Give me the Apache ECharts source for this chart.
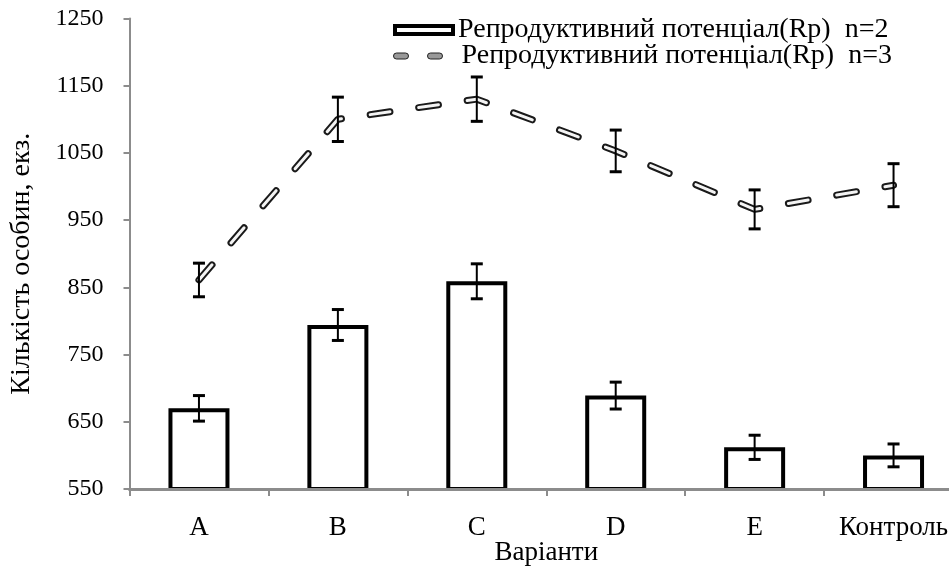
<!DOCTYPE html>
<html><head><meta charset="utf-8">
<script src="https://cdn.jsdelivr.net/npm/echarts@6/dist/echarts.min.js"></script>
<style>html,body{margin:0;padding:0;background:#fff}#c{width:949px;height:569px}</style>
</head><body><div id="c"></div>
<script>
const categories = ['A', 'B', 'C', 'D', 'E', 'Контроль'];
const barValues = [670, 794, 859, 689, 612, 600];
const barErrors = [19, 23, 26, 20, 18, 17];
const lineValues = [861, 1100, 1130, 1053, 966, 1002];
const lineErrors = [25, 33, 33, 31, 29, 32];
const yMin = 550, yMax = 1250, yStep = 100;
const seriesNames = ['Репродуктивний потенціал(Rp)  n=2', 'Репродуктивний потенціал(Rp)  n=3'];
const xTitle = 'Варіанти';
const yTitle = 'Кількість особин, екз.';

const FONT = 'Liberation Serif';
const errData = (vals, errs) => vals.map((v, i) => [i, v - errs[i], v + errs[i]]);

function errRender(params, api) {
  const x = api.value(0);
  const lo = api.coord([x, api.value(1)]);
  const hi = api.coord([x, api.value(2)]);
  const w = 6;
  return {
    type: 'group',
    children: [
      { type: 'line', shape: { x1: lo[0], y1: lo[1], x2: hi[0], y2: hi[1] }, style: { stroke: '#000', lineWidth: 2 } },
      { type: 'line', shape: { x1: hi[0] - w, y1: hi[1], x2: hi[0] + w, y2: hi[1] }, style: { stroke: '#000', lineWidth: 3 } },
      { type: 'line', shape: { x1: lo[0] - w, y1: lo[1], x2: lo[0] + w, y2: lo[1] }, style: { stroke: '#000', lineWidth: 3 } }
    ]
  };
}

const chart = echarts.init(document.getElementById('c'), null, { renderer: 'canvas' });
chart.setOption({
  animation: false,
  backgroundColor: '#fff',
  textStyle: { fontFamily: FONT, color: '#000' },
  grid: { left: 129.5, right: -14, top: 18.5, bottom: 80, outerBoundsMode: 'none', containLabel: false },
  legend: [
    {
      data: [{ name: seriesNames[0], icon: 'rect', itemStyle: { color: '#fff', borderColor: '#000', borderWidth: 4 } }],
      left: 393, top: 16, padding: 0, itemWidth: 58, itemHeight: 8, selectedMode: false,
      textStyle: { fontFamily: FONT, fontSize: 28, color: '#000', lineHeight: 27 }
    },
    {
      data: [{ name: seriesNames[1], icon: 'path://M3,0H12A3,3 0 0 1 12,6H3A3,3 0 0 1 3,0Z M37,0H46A3,3 0 0 1 46,6H37A3,3 0 0 1 37,0Z', itemStyle: { color: '#999', borderColor: '#222', borderWidth: 1 } }],
      left: 393, top: 42, padding: 0, itemWidth: 49, itemHeight: 6, selectedMode: false,
      textStyle: { fontFamily: FONT, fontSize: 28, color: '#000', lineHeight: 27, padding: [0, 0, 0, 14] }
    }
  ],
  xAxis: {
    type: 'category',
    data: categories,
    boundaryGap: true,
    z: 10,
    name: xTitle,
    nameLocation: 'middle',
    nameGap: 50,
    nameMoveOverlap: false,
    nameTextStyle: { fontFamily: FONT, fontSize: 27, color: '#000' },
    axisLine: { lineStyle: { color: '#8c8c8c', width: 3 } },
    axisTick: { show: true, length: 7, lineStyle: { color: '#8c8c8c', width: 2 } },
    axisLabel: { fontFamily: FONT, fontSize: 27, color: '#000', margin: 25, interval: 0 },
    splitLine: { show: false }
  },
  yAxis: {
    type: 'value',
    min: yMin, max: yMax, interval: yStep,
    name: yTitle,
    nameLocation: 'middle',
    nameGap: 94,
    nameMoveOverlap: false,
    nameTextStyle: { fontFamily: FONT, fontSize: 28, color: '#000', padding: [0, 20, 0, 0] },
    axisLine: { show: true, lineStyle: { color: '#8c8c8c', width: 2 } },
    axisTick: { show: true, length: 6, lineStyle: { color: '#8c8c8c', width: 2 } },
    axisLabel: { fontFamily: FONT, fontSize: 24, color: '#000', margin: 26, formatter: v => String(v) },
    splitLine: { show: false }
  },
  series: [
    {
      name: seriesNames[0], type: 'bar', data: barValues, barWidth: 61,
      itemStyle: { color: '#fff', borderColor: '#000', borderWidth: 4 },
      z: 2
    },
    {
      name: 'errBar', type: 'custom', data: errData(barValues, barErrors), renderItem: errRender,
      encode: { x: 0, y: [1, 2] }, z: 3, silent: true
    },
    {
      name: seriesNames[1], type: 'line', data: lineValues, symbol: 'none', z: 4,
      itemStyle: { color: '#999' },
      lineStyle: { color: '#1a1a1a', width: 7, type: [20, 29], cap: 'round' }
    },
    {
      name: 'lineInner', type: 'line', data: lineValues, symbol: 'none', z: 5,
      lineStyle: { color: '#f4f4f4', width: 3, type: [20, 29], cap: 'round' }
    },
    {
      name: 'errLine', type: 'custom', data: errData(lineValues, lineErrors), renderItem: errRender,
      encode: { x: 0, y: [1, 2] }, z: 6, silent: true
    }
  ]
});
</script>
</body></html>
